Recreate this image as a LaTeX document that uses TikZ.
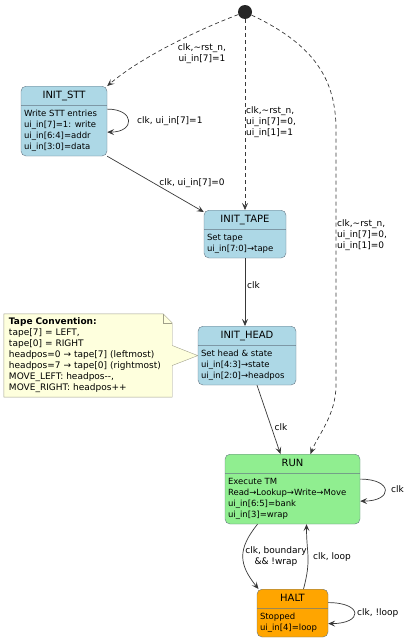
\documentclass[tikz,border=0pt]{standalone}
\usepackage{fontspec}
\setmainfont{DejaVu Sans}
\usetikzlibrary{arrows.meta,shapes.multipart,backgrounds}

\definecolor{stateblue}{HTML}{ADD8E6}
\definecolor{stategreen}{HTML}{90EE90}
\definecolor{stateorange}{HTML}{FFA500}
\definecolor{notefill}{HTML}{FEFFDD}
\definecolor{noteborder}{HTML}{A0A08A}
\definecolor{stateborder}{HTML}{667784}
\definecolor{edgeclr}{HTML}{383838}

\newcommand{\stitle}[1]{\rule[-3.5pt]{0pt}{13pt}#1}
\newcommand{\sbody}[1]{\fontsize{8.5}{11}\selectfont\begin{tabular}{@{}l@{}}#1\end{tabular}}

\begin{document}
\begin{tikzpicture}[
    x=1pt,
    y=-1pt,
    state/.style={
        rectangle split,
        rectangle split parts=2,
        rectangle split part align={center,left},
        draw=stateborder,
        rounded corners=5pt,
        inner xsep=3pt,
        inner ysep=3pt,
        anchor=north,
        font=\fontsize{10}{12}\selectfont
    },
    note/.style={
        text width=158pt,
        inner xsep=5pt,
        inner ysep=4pt,
        align=left,
        font=\fontsize{9}{11}\selectfont
    },
    elabel/.style={
        inner sep=0pt,
        align=left,
        text=black,
        font=\fontsize{9}{11}\selectfont
    },
    arrow/.style={
        -{Stealth[length=7pt,width=6pt,inset=3pt]},
        draw=edgeclr,
        line width=0.7pt
    },
    reset/.style={
        arrow,
        dash pattern=on 4pt off 3pt
    }
]
\useasboundingbox (0,0) rectangle (413,640);

% Start point
\node[circle, fill=black!85, minimum size=14pt, inner sep=0pt] (init) at (245,12) {};

% Loading states
\node[state, fill=stateblue, minimum width=86pt] (stt) at (64,86)
    {\stitle{INIT\_STT}\nodepart{two}\sbody{Write STT entries\\ ui\_in[7]=1: write\\ ui\_in[6:4]=addr\\ ui\_in[3:0]=data}};
\node[state, fill=stateblue, minimum width=82pt] (tape) at (245,210)
    {\stitle{INIT\_TAPE}\nodepart{two}\sbody{Set tape\\ ui\_in[7:0]→tape}};
\node[state, fill=stateblue, minimum width=98pt] (head) at (247,326)
    {\stitle{INIT\_HEAD}\nodepart{two}\sbody{Set head \& state\\ ui\_in[4:3]→state\\ ui\_in[2:0]→headpos}};

% Running states
\node[state, fill=stategreen, minimum width=135pt] (run) at (292.5,454)
    {\stitle{RUN}\nodepart{two}\sbody{Execute TM\\ Read→Lookup→Write→Move\\ ui\_in[6:5]=bank\\ ui\_in[3]=wrap}};
\node[state, fill=stateorange, minimum width=71pt] (halt) at (292.5,589)
    {\stitle{HALT}\nodepart{two}\sbody{Stopped\\ ui\_in[4]=loop}};

% Note
\node[note] (conv) at (88,355.5)
    {\textbf{Tape Convention:}\\ tape[7] = LEFT,\\ tape[0] = RIGHT\\ headpos=0 → tape[7] (leftmost)\\ headpos=7 → tape[0] (rightmost)\\ MOVE\_LEFT: headpos-{}-,\\ MOVE\_RIGHT: headpos++};
\begin{scope}[on background layer]
\draw[draw=noteborder, fill=notefill] (conv.north west) -- ([xshift=-9pt]conv.north east)
    -- ([yshift=-9pt]conv.north east) -- ([yshift=10pt]conv.east) -- (head.west)
    -- ([yshift=-10pt]conv.east) -- (conv.south east) -- (conv.south west) -- cycle;
\draw[draw=noteborder] ([xshift=-9pt]conv.north east) -- ([xshift=-9pt,yshift=-9pt]conv.north east)
    -- ([yshift=-9pt]conv.north east);
\end{scope}

% Reset transitions
\draw[reset] (init) .. controls (195,31) and (140,58) .. (stt.north east);
\draw[reset] (init) -- (tape.north);
\draw[reset] (init) .. controls (315,45) and (336,80) .. (336,130) -- (336,385)
    .. controls (336,415) and (318,435) .. ([xshift=18pt]run.north);
\node[elabel, align=center] (lrsta) at (202,54) {clk,\textasciitilde rst\_n,\\ ui\_in[7]=1};
\node[elabel, anchor=west] (lrstb) at (246,122) {clk,\textasciitilde rst\_n,\\ ui\_in[7]=0,\\ ui\_in[1]=1};
\node[elabel, anchor=west] (lrstc) at (337,235) {clk,\textasciitilde rst\_n,\\ ui\_in[7]=0,\\ ui\_in[1]=0};

% Loading transitions
\draw[arrow] ([yshift=12pt]stt.east) .. controls +(28,0) and +(28,0) .. ([yshift=-11pt]stt.east);
\node[elabel, anchor=west] (lsttloop) at (137,121) {clk, ui\_in[7]=1};
\draw[arrow] (stt.south east) -- ([yshift=-2pt]tape.north west);
\node[elabel] (lstttape) at (192,183) {clk, ui\_in[7]=0};
\draw[arrow] (tape.south) -- (tape.south |- head.north);
\node[elabel, anchor=west] (ltapehead) at (247,285) {clk};
\draw[arrow] ([xshift=10pt]head.south) -- ([xshift=-12pt]run.north);
\node[elabel] (lheadrun) at (281,427) {clk};

% Running transitions
\draw[arrow] ([yshift=10pt]run.east) .. controls +(33,0) and +(33,0) .. ([yshift=-12pt]run.east);
\node[elabel, anchor=west] (lrunloop) at (391,489) {clk};
\draw[arrow] ([xshift=-35pt]run.south) .. controls +(-20,25) and +(-20,-25) .. ([xshift=-34pt]halt.north);
\node[elabel, align=center] (lrunhalt) at (276,557) {clk, boundary\\ \&\& !wrap};
\draw[arrow] ([xshift=11pt]halt.north) .. controls +(8,-30) and +(0,30) .. ([xshift=14pt]run.south);
\node[elabel, anchor=west] (lhaltrun) at (313,557) {clk, loop};
\draw[arrow] ([yshift=10.5pt]halt.east) .. controls +(35,0) and +(35,0) .. ([yshift=-10.5pt]halt.east);
\node[elabel, anchor=west] (lhaltloop) at (357,613) {clk, !loop};

\end{tikzpicture}
\end{document}
